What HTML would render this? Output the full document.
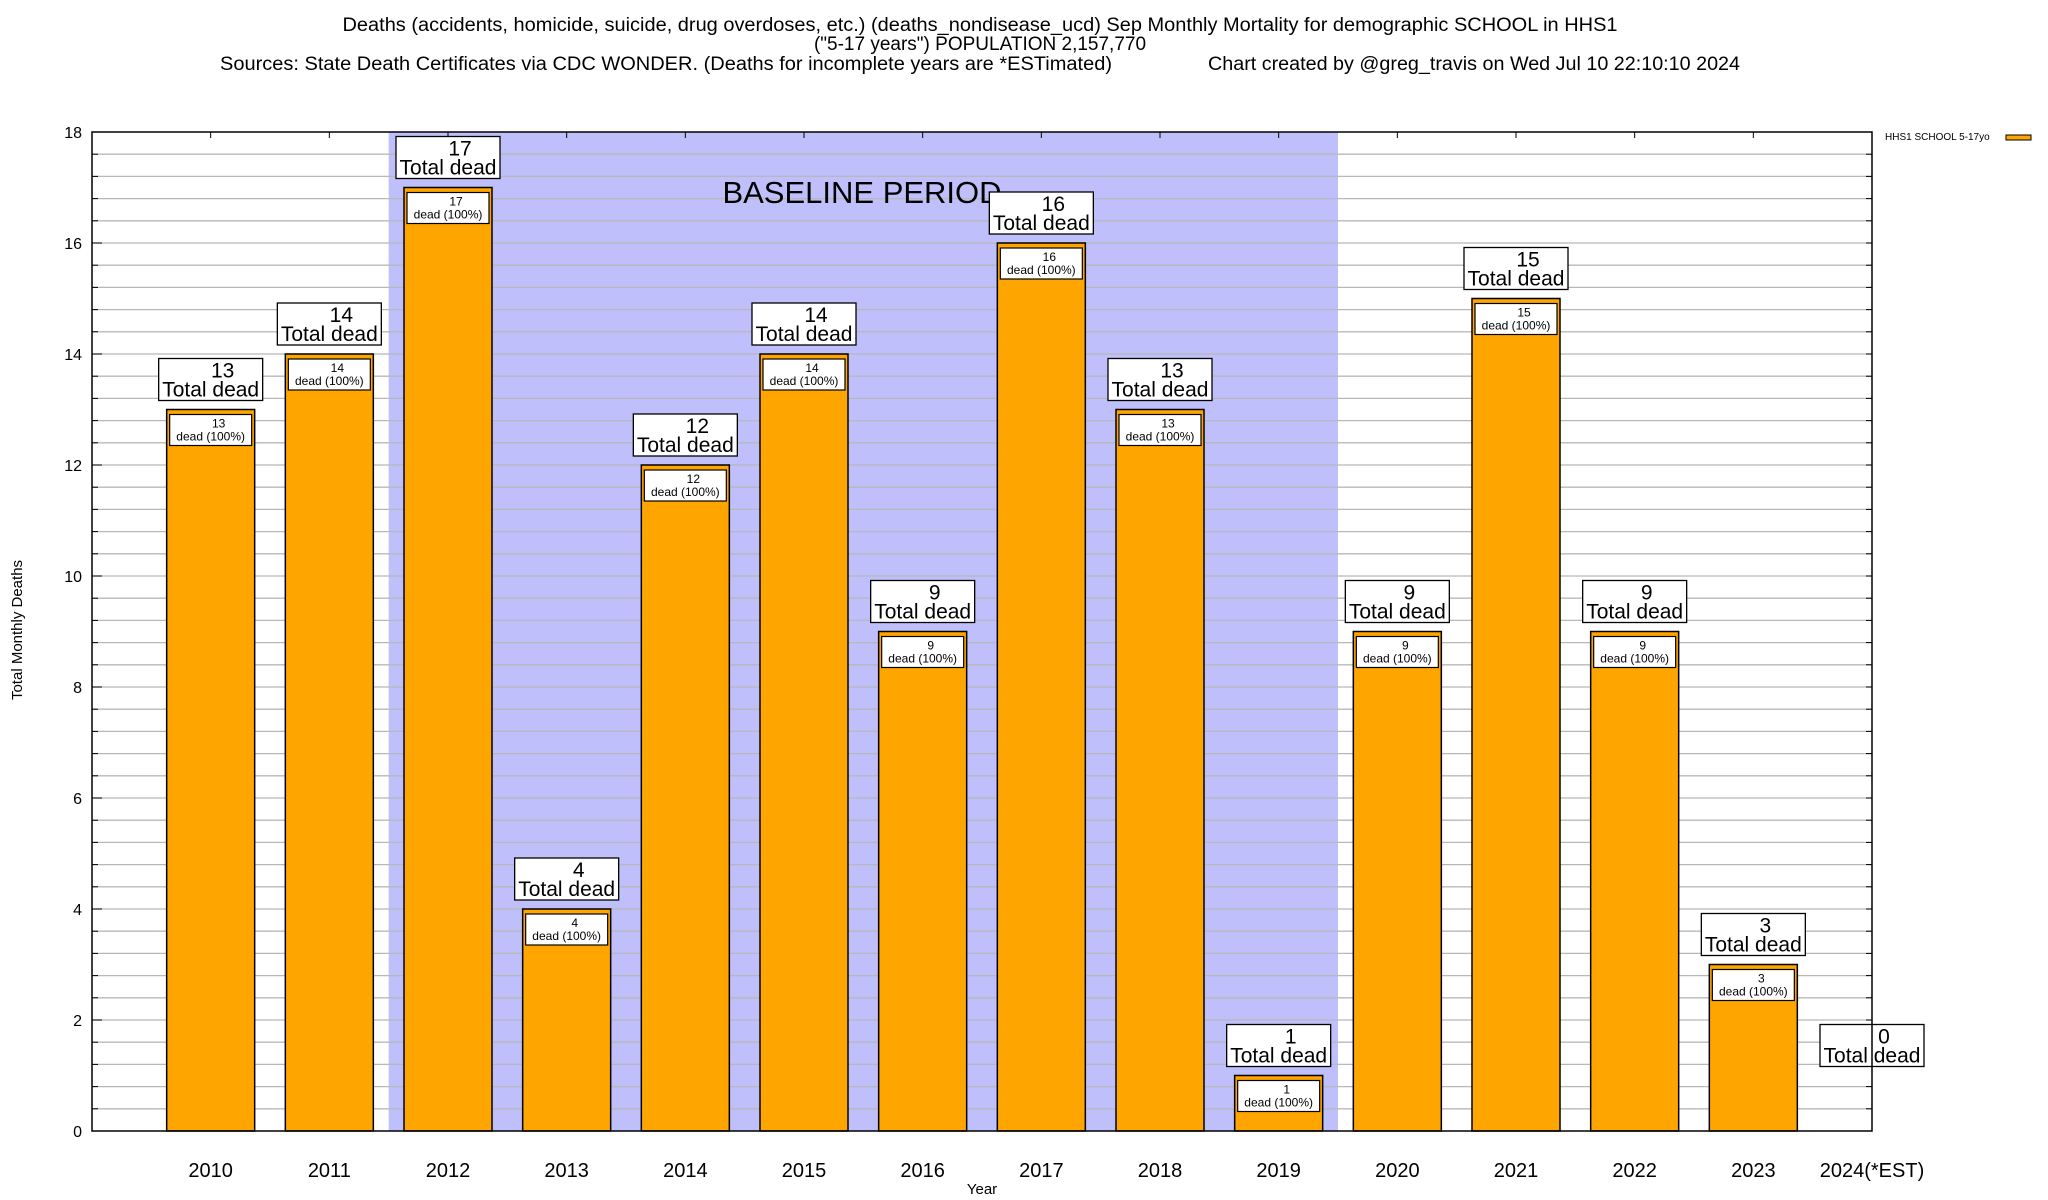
<!DOCTYPE html>
<html><head><meta charset="utf-8"><style>
html,body{margin:0;padding:0;background:#fff}
svg{display:block;font-family:"Liberation Sans",Arial,sans-serif}
</style></head><body>
<svg id="chart" width="2048" height="1200" viewBox="0 0 2048 1200">
<g>
<text x="980" y="31" font-size="19" text-anchor="middle" textLength="1275" lengthAdjust="spacingAndGlyphs">Deaths (accidents, homicide, suicide, drug overdoses, etc.) (deaths_nondisease_ucd) Sep Monthly Mortality for demographic SCHOOL in HHS1</text>
<text x="980" y="50" font-size="19" text-anchor="middle">("5-17 years") POPULATION 2,157,770</text>
<text x="220" y="70" font-size="19" textLength="892" lengthAdjust="spacingAndGlyphs">Sources: State Death Certificates via CDC WONDER. (Deaths for incomplete years are *ESTimated)</text>
<text x="1208" y="70" font-size="19" textLength="532" lengthAdjust="spacingAndGlyphs">Chart created by @greg_travis on Wed Jul 10 22:10:10 2024</text>
</g>
<g id="plot"></g>
<text x="22" y="630" font-size="15" text-anchor="middle" transform="rotate(-90 22 630)">Total Monthly Deaths</text>
<text x="982" y="1194" font-size="15" text-anchor="middle">Year</text>
<g>
<text x="1885" y="140" font-size="10">HHS1 SCHOOL 5-17yo</text>
<rect x="2006" y="135" width="25" height="5" fill="#ffa500" stroke="#000" stroke-width="1"/>
</g>
</svg>
<script>
const categories = ["2010","2011","2012","2013","2014","2015","2016","2017","2018","2019","2020","2021","2022","2023","2024(*EST)"];
const deaths = [13,14,17,4,12,14,9,16,13,1,9,15,9,3,0];
const yTicks = [0,2,4,6,8,10,12,14,16,18];
const baselineStart = 1.5, baselineEnd = 9.5;

const L=92,R=1872,T=132,B=1131, yMax=18;
const unit=(R-L)/15;
const xs=i=>L+(i+1)*unit;
const ys=v=>B-(v/yMax)*(B-T);
const NS="http://www.w3.org/2000/svg";
const g=document.getElementById('plot');
function el(tag,attrs,parent){const e=document.createElementNS(NS,tag);for(const k in attrs)e.setAttribute(k,attrs[k]);(parent||g).appendChild(e);return e;}

const band=el('rect',{x:xs(baselineStart),y:T,width:xs(baselineEnd)-xs(baselineStart),height:B-T,fill:'#bfbffb'});


for(let v=0.4;v<yMax-0.01;v+=0.4){
  const gl=el('line',{x1:L,x2:R,y1:ys(v),y2:ys(v),stroke:'#b8b8b8','stroke-width':1.3});
  
  
  el('line',{x1:L,x2:L+6,y1:ys(v),y2:ys(v),stroke:'#000'});
  el('line',{x1:R-6,x2:R,y1:ys(v),y2:ys(v),stroke:'#000'});
}
const bt=el('text',{x:862,y:203,'font-size':31,'text-anchor':'middle'});
bt.textContent='BASELINE PERIOD';


yTicks.forEach(t=>{
  const tx=el('text',{x:82,y:ys(t)+6,'font-size':16,'text-anchor':'end'});
  tx.textContent=t;
  
  
  el('line',{x1:L,x2:L+10,y1:ys(t),y2:ys(t),stroke:'#000'});
});
categories.forEach((c,i)=>{
  const cx=xs(i), v=deaths[i];
  el('line',{x1:cx,x2:cx,y1:T,y2:T+6,stroke:'#000'});
  el('line',{x1:cx,x2:cx,y1:B,y2:B-6,stroke:'#000'});
  if(v>0){
    const b=el('rect',{x:cx-44,y:ys(v),width:88,height:B-ys(v),fill:'#ffa500',stroke:'#000','stroke-width':1.5});
    
    
    const ib=el('rect',{x:cx-41,y:ys(v)+5,width:82,height:31,fill:'#fff',stroke:'#000','stroke-width':1.2});
    
    
    const t1=el('text',{x:cx+8,y:ys(v)+18,'font-size':12,'text-anchor':'middle'});t1.textContent=v;
    const t2=el('text',{x:cx,y:ys(v)+31,'font-size':12,'text-anchor':'middle'});t2.textContent='dead (100%)';
  }
  const top=ys(Math.max(v,1))-51;
  const ob=el('rect',{x:cx-52,y:top,width:104,height:42,fill:'#fff',stroke:'#000','stroke-width':1.3});
  
  
  const a=el('text',{x:cx+12,y:top+19,'font-size':21,'text-anchor':'middle'});a.textContent=v;
  const b2=el('text',{x:cx,y:top+38,'font-size':21,'text-anchor':'middle'});b2.textContent='Total dead';
  const xl=el('text',{x:cx,y:1177,'font-size':20,'text-anchor':'middle'});xl.textContent=c;
  
  
});
const fr=el('rect',{x:L,y:T,width:R-L,height:B-T,fill:'none',stroke:'#000','stroke-width':1.5});


</script>
</body></html>
